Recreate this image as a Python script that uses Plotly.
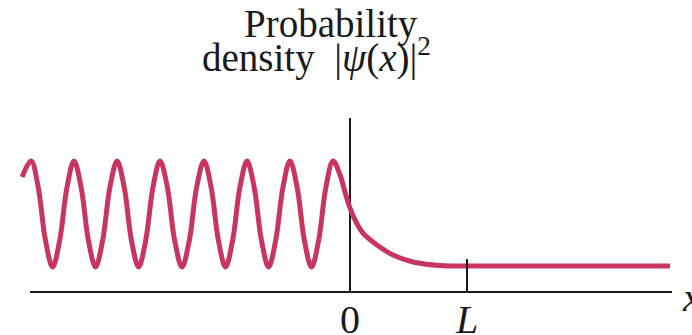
import plotly.graph_objects as go

# ─── Data (x in units of L, y in units of the peak density) ─────────────
wave_x = [
    -2.803, -2.726, -2.665, -2.603, -2.542, -2.481, -2.419,
    -2.359, -2.298, -2.236, -2.175, -2.114, -2.052,
    -1.991, -1.930, -1.868, -1.807, -1.746, -1.684,
    -1.624, -1.561, -1.499, -1.436, -1.373, -1.311,
    -1.248, -1.187, -1.125, -1.064, -1.003, -0.941,
    -0.880, -0.819, -0.757, -0.696, -0.635, -0.573,
    -0.513, -0.452, -0.390, -0.329, -0.268, -0.206,
    -0.145, -0.085, -0.043, 0.0, 0.043, 0.111, 0.231, 0.368, 0.538, 0.769,
    1.026, 2.735,
]
wave_y = [
    0.878, 1.0, 0.8, 0.395, 0.19, 0.395, 0.8,
    1.0, 0.8, 0.395, 0.19, 0.395, 0.8,
    1.0, 0.8, 0.395, 0.19, 0.395, 0.8,
    1.0, 0.8, 0.395, 0.19, 0.395, 0.8,
    1.0, 0.8, 0.395, 0.19, 0.395, 0.8,
    1.0, 0.8, 0.395, 0.19, 0.395, 0.8,
    1.0, 0.8, 0.395, 0.19, 0.395, 0.8,
    1.0, 0.893, 0.763, 0.641, 0.550, 0.450, 0.359, 0.282, 0.229, 0.202,
    0.198, 0.198,
]
tick_vals = [0, 1]
tick_text = ["0", "<i>L</i>"]
axis_span = [-2.735, 2.752]

CURVE_COLOR = "#c73560"
INK = "#1a1a1a"
SERIF = "Liberation Serif, Times New Roman, serif"

fig = go.Figure()

fig.add_trace(go.Scatter(
    x=wave_x, y=wave_y,
    mode="lines",
    line=dict(color=CURVE_COLOR, width=5, shape="spline", smoothing=1),
    hoverinfo="skip",
    showlegend=False,
))

# horizontal x axis (shorter than the plot area)
fig.add_shape(
    type="line", xref="x", yref="paper",
    x0=axis_span[0], x1=axis_span[1], y0=0, y1=0,
    line=dict(color=INK, width=2),
)

fig.update_layout(
    width=692, height=335,
    paper_bgcolor="white", plot_bgcolor="white",
    margin=dict(l=10, r=0, t=118, b=43),
    xaxis=dict(
        range=[-2.906, 2.923],
        automargin=False,
        showgrid=False, showline=False,
        zeroline=True, zerolinecolor=INK, zerolinewidth=2,
        tickvals=tick_vals, ticktext=tick_text,
        ticks="inside", ticklen=33, tickwidth=2, tickcolor=INK,
        tickfont=dict(family=SERIF, size=40, color=INK),
        ticklabelstandoff=0,
    ),
    yaxis=dict(
        range=[0, 1.328],
        automargin=False,
        showgrid=False, showline=False, zeroline=False,
        showticklabels=False, ticks="",
    ),
    annotations=[
        dict(text="Probability", xref="paper", yref="paper",
             x=0.4707, y=1.54, xanchor="center", yanchor="middle",
             showarrow=False, font=dict(family=SERIF, size=39, color=INK)),
        dict(text="density  |<i>ψ</i>(<i>x</i>)|<sup>2</sup>", xref="paper", yref="paper",
             x=0.4487, y=1.36, xanchor="center", yanchor="middle",
             showarrow=False, font=dict(family=SERIF, size=39, color=INK)),
        dict(text="<i>x</i>", xref="paper", yref="paper",
             x=0.982, y=-0.029, xanchor="left", yanchor="middle",
             showarrow=False, font=dict(family=SERIF, size=40, color=INK)),
    ],
)

fig.write_html(
    "out.html",
    config={"displayModeBar": False},
    post_script="document.body.style.margin='0';",
)
